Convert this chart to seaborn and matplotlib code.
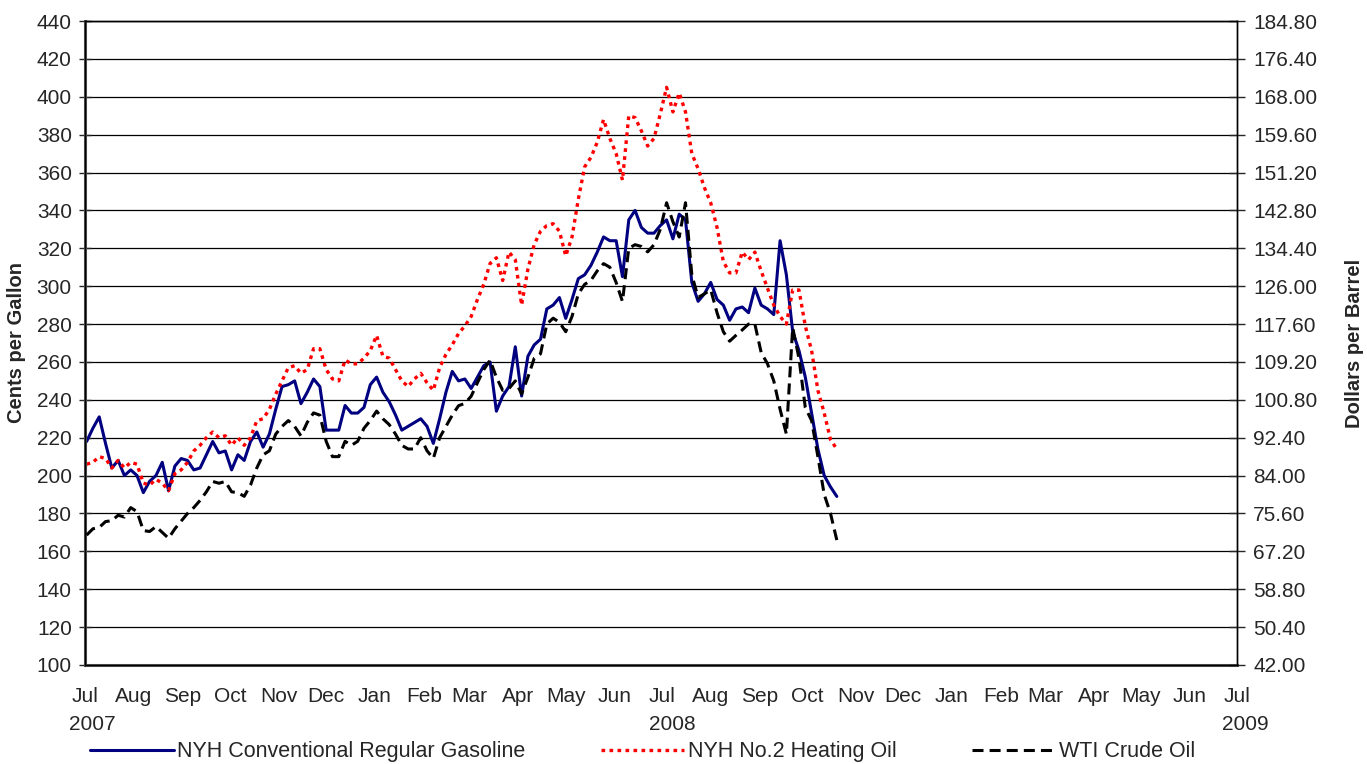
import pandas as pd
import matplotlib.pyplot as plt
import matplotlib.dates as mdates
import seaborn as sns

# sampled roughly every 4 days, starting 2 Jul 2007
dates = pd.date_range("2007-07-02", periods=120, freq="4D")

gasoline = [
    218, 225, 231, 217, 204, 208, 200, 203, 200, 191, 197, 200, 207, 192, 205, 209, 208, 203, 204, 211, 218, 212, 213, 203, 211,
    208, 218, 223, 215, 222, 235, 247, 248, 250, 238, 244, 251, 247, 224, 224, 224, 237, 233, 233, 236, 248, 252, 244, 239,
    232, 224, 226, 228, 230, 226, 217, 230, 244, 255, 250, 251, 246, 252, 258, 260, 234, 242, 247, 268, 242, 263, 269, 272,
    288, 290, 294, 283, 293, 304, 306, 311, 318, 326, 324, 324, 305, 335, 340, 331, 328, 328, 332, 335, 325, 338, 335, 302,
    292, 296, 302, 293, 290, 282, 288, 289, 286, 299, 290, 288, 285, 324, 306, 276, 266, 252, 233, 214, 200, 194, 189,
]

heating_oil = [
    206, 207, 210, 209, 204, 208, 204, 207, 206, 196, 195, 198, 196, 192, 201, 203, 207, 213, 216, 220, 223, 220, 221, 216, 220,
    216, 220, 229, 230, 235, 243, 250, 257, 258, 254, 256, 267, 267, 256, 251, 250, 261, 259, 259, 262, 266, 274, 263, 262,
    256, 250, 247, 251, 254, 249, 245, 257, 264, 269, 275, 279, 284, 293, 301, 312, 315, 303, 318, 314, 290, 309, 322, 329,
    332, 333, 329, 316, 326, 346, 363, 368, 376, 388, 378, 370, 356, 390, 389, 382, 374, 378, 391, 405, 392, 402, 392, 370,
    362, 352, 344, 331, 313, 307, 307, 318, 314, 318, 308, 299, 290, 284, 280, 298, 298, 279, 266, 245, 233, 219, 214,
]

# dollars per barrel (right axis)
wti = [
    70.8, 72.2, 72.5, 73.8, 74.0, 75.2, 74.8, 76.9, 76.0, 71.8, 71.6, 72.7, 71.4, 70.1, 72.2, 73.9, 75.6, 76.9, 78.5, 80.4, 82.7, 82.3, 82.7, 80.4, 80.2,
    79.4, 81.9, 85.7, 88.6, 89.5, 93.2, 94.9, 96.2, 94.9, 92.8, 95.8, 97.9, 97.4, 91.6, 88.2, 88.2, 91.6, 90.7, 91.6, 94.5, 96.2, 98.3, 96.6, 95.3,
    93.2, 90.7, 89.9, 89.9, 92.4, 89.5, 87.8, 92.4, 94.9, 97.4, 99.5, 100.0, 101.6, 104.6, 107.5, 109.6, 105.8, 102.9, 103.3, 105.0, 102.1, 105.8, 110.0, 111.0,
    117.6, 118.9, 118.0, 115.9, 119.3, 124.3, 126.4, 127.3, 129.4, 131.0, 130.2, 126.8, 122.6, 134.4, 135.2, 134.8, 133.6, 135.2, 138.6, 144.5, 140.3, 136.9, 144.5, 128.5,
    123.5, 124.3, 125.2, 120.1, 115.9, 113.8, 115.1, 116.3, 117.6, 117.6, 111.3, 108.8, 105.0, 98.7, 93.2, 116.8, 110.0, 99.1, 96.2, 88.2, 79.8, 75.6, 69.7,
]

left_ticks = list(range(100, 441, 20))
right_ticks = [round(42 + 8.4 * k, 2) for k in range(18)]
years = ["2007", "2008", "2009"]

sns.set_style("white")
plt.rcParams["font.family"] = ["Liberation Sans", "DejaVu Sans"]

df = pd.DataFrame({"date": dates, "gas": gasoline, "ho": heating_oil, "wti": wti})

fig, ax = plt.subplots(figsize=(13.67, 7.64), dpi=100)
fig.subplots_adjust(left=0.0622, right=0.905, top=0.9725, bottom=0.1296)
ax2 = ax.twinx()

sns.lineplot(data=df, x="date", y="gas", ax=ax, color="#000080", lw=2.2,
             label="NYH Conventional Regular Gasoline")
sns.lineplot(data=df, x="date", y="ho", ax=ax, color="#ff0000", lw=2.4,
             label="NYH No.2 Heating Oil").lines[-1].set_dashes((1.1, 1.3))
sns.lineplot(data=df, x="date", y="wti", ax=ax2, color="black", lw=2.2,
             label="WTI Crude Oil").lines[-1].set_dashes((3.6, 2.0))

ax.set_ylim(100, 440)
ax.set_yticks(left_ticks)
ax2.set_ylim(42, 184.8)
ax2.set_yticks(right_ticks)
ax2.set_yticklabels([f"{v:.2f}" for v in right_ticks])

ax.set_xlim(pd.Timestamp("2007-07-01"), pd.Timestamp("2009-07-01"))
ax.xaxis.set_major_locator(mdates.MonthLocator())
ax.xaxis.set_major_formatter(mdates.DateFormatter("%b"))

ax.grid(axis="y", color="black", lw=0.9)
ax.grid(axis="x", visible=False)
ax.set_axisbelow(True)

ax.tick_params(axis="y", direction="inout", length=9, width=1, labelsize=15, pad=5)
ax.tick_params(axis="x", direction="out", length=7, width=1, labelsize=15, pad=9)
ax2.tick_params(axis="y", direction="inout", length=11, width=1, labelsize=15, pad=6)

for a in (ax, ax2):
    for s in a.spines.values():
        s.set_color("black")
        s.set_linewidth(1.0)
ax.spines["left"].set_color("#555555")
ax.spines["left"].set_linewidth(2.2)
ax.spines["bottom"].set_color("#555555")
ax.spines["bottom"].set_linewidth(2.2)

ax.set_xlabel("")
ax.set_ylabel("Cents per Gallon", fontsize=14.5, fontweight="bold", labelpad=8)
ax2.set_ylabel("Dollars per Barrel", fontsize=14.5, fontweight="bold", labelpad=20)

for txt, xp in zip(years, [92, 672, 1245]):
    fig.text(xp / 1367, 1 - 725 / 764, txt, fontsize=15, ha="center", va="center")

h1, l1 = ax.get_legend_handles_labels()
h2, l2 = ax2.get_legend_handles_labels()
ax.get_legend().remove()
ax2.get_legend().remove()
leg = fig.legend(h1 + h2, l1 + l2, loc="center", bbox_to_anchor=(0.47, 0.016),
                 ncol=3, frameon=False, fontsize=15.5, handlelength=3.9,
                 handletextpad=0.15, columnspacing=3.5)

plt.savefig("out.png", dpi=100)
